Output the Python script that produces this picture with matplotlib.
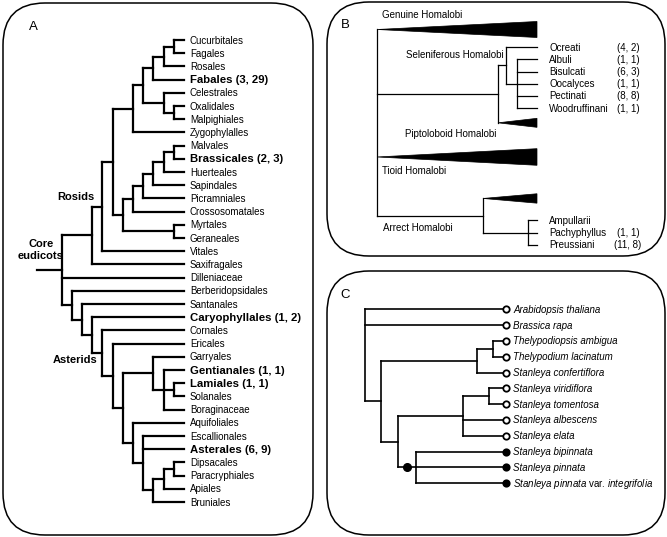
import re
import matplotlib
matplotlib.use("Agg")
import matplotlib.pyplot as plt
from matplotlib.patches import FancyBboxPatch, Polygon
from matplotlib.collections import LineCollection

plt.rcParams['font.family'] = 'Liberation Sans'
plt.rcParams['mathtext.fontset'] = 'custom'
plt.rcParams['mathtext.it'] = 'Liberation Sans:italic'
plt.rcParams['mathtext.rm'] = 'Liberation Sans'

# ---- panel A : orders of the core eudicots (cladogram, topology only)
fabids = ("(((((Cucurbitales,Fagales),Rosales),Fabales),(Celestrales,(Oxalidales,Malpighiales))),"
          "Zygophylalles)")
malvids = ("((((((Malvales,Brassicales),Huerteales),Sapindales),Picramniales),Crossosomatales),"
           "(Myrtales,Geraneales))")
rosids = "(((" + fabids + "," + malvids + "),Vitales),Saxifragales)"
garryids = "(Garryales,(Gentianales,(Lamiales,Solanales),Boraginaceae))"
campanulids = "(Aquifoliales,(Escallionales,Asterales,(((Dipsacales,Paracryphiales),Apiales),Bruniales)))"
asterid_grade = ("(Berberidopsidales,(Santanales,(Caryophyllales,(Cornales,(Ericales,("
                 + garryids + "," + campanulids + "))))))")
tree_a = "(" + rosids + ",Dilleniaceae," + asterid_grade + ")"
# (genera, species) of selenium hyperaccumulators per order
counts_a = {"Fabales": (3, 29), "Brassicales": (2, 3), "Caryophyllales": (1, 2),
            "Gentianales": (1, 1), "Lamiales": (1, 1), "Asterales": (6, 9)}

# ---- panel B : sections of Astragalus (branch lengths, * = collapsed clade)
tree_b = ("(*Genuine Homalobi:160,((Ocreati:31,(Albuli:20,Bisulcati:20,Oocalyces:20,Pectinati:20,"
          "Woodruffinani:20):11)Seleniferous Homalobi:8,*Piptoloboid Homalobi:39):121,"
          "*Tioid Homalobi:160,(*:54,(Ampullarii:9,Pachyphyllus:9,Preussiani:9):45)Arrect Homalobi:106)")
counts_b = {"Ocreati": (4, 2), "Albuli": (1, 1), "Bisulcati": (6, 3), "Oocalyces": (1, 1),
            "Pectinati": (8, 8), "Woodruffinani": (1, 1), "Pachyphyllus": (1, 1),
            "Preussiani": (11, 8)}
# collapsed clades: rows taken, half height of triangle mouth
collapsed_rows = {"Genuine Homalobi": 1.9, "Piptoloboid Homalobi": 1.4,
                  "Tioid Homalobi": 4.2, "": 2.6}
collapsed_half = {"Genuine Homalobi": 8, "Piptoloboid Homalobi": 4.5,
                  "Tioid Homalobi": 8.3, "": 4.7}

# ---- panel C : Stanleya and relatives
tree_c = ("(Arabidopsis thaliana:141,Brassica rapa:141,(((Thelypodiopsis ambigua:13,"
          "Thelypodium lacinatum:13):16,Stanleya confertiflora:29):96,(((Stanleya viridiflora:17,"
          "Stanleya tomentosa:17):26,Stanleya albescens:43,Stanleya elata:43):65,"
          "(Stanleya bipinnata:90,Stanleya pinnata:90,Stanleya pinnata var. integrifolia:90):18):17):16)")
hyperaccumulators = ["Stanleya bipinnata", "Stanleya pinnata", "Stanleya pinnata var. integrifolia"]


def parse(s):
    pos = 0

    def node():
        nonlocal pos
        kids = []
        if s[pos] == '(':
            pos += 1
            kids.append(node())
            while s[pos] == ',':
                pos += 1
                kids.append(node())
            pos += 1
        name = re.match(r"[^,():]*", s[pos:]).group(0)
        pos += len(name)
        length = 0.0
        if pos < len(s) and s[pos] == ':':
            m = re.match(r":([0-9.]+)", s[pos:])
            length = float(m.group(1))
            pos += len(m.group(0))
        coll = name.startswith('*')
        return {'name': name.lstrip('*'), 'kids': kids, 'len': length, 'coll': coll}
    return node()


def tips(n):
    if not n['kids']:
        return [n]
    return [t for k in n['kids'] for t in tips(k)]


def all_nodes(n):
    return [n] + [m for k in n['kids'] for m in all_nodes(k)]


def set_height(n):
    n['h'] = 0 if not n['kids'] else 1 + max(set_height(k) for k in n['kids'])
    return n['h']


def set_x_len(n, x):
    n['x'] = x + n['len']
    for k in n['kids']:
        set_x_len(k, n['x'])


def set_y(n):
    if n['kids']:
        for k in n['kids']:
            set_y(k)
        n['y'] = (n['kids'][0]['y'] + n['kids'][-1]['y']) / 2


def segments(root):
    segs = []
    for n in all_nodes(root):
        if not n['kids']:
            continue
        segs.append([(n['x'], n['kids'][0]['y']), (n['x'], n['kids'][-1]['y'])])
        for k in n['kids']:
            if not k['coll']:
                segs.append([(n['x'], k['y']), (k['x'], k['y'])])
    return segs


fig = plt.figure(figsize=(6.67, 5.37), dpi=100)
ax = fig.add_axes([0, 0, 1, 1])
ax.set_xlim(0, 667)
ax.set_ylim(537, 0)
ax.axis('off')

for (x0, y0, x1, y1) in [(3, 3, 313, 535), (327, 2, 665, 256), (327, 271, 665, 535)]:
    ax.add_patch(FancyBboxPatch((x0, y0), x1 - x0, y1 - y0, boxstyle="round,pad=0,rounding_size=42",
                                fc='none', ec='black', lw=1.1))

# ---------------- A
ta = parse(tree_a)
set_height(ta)
for n in all_nodes(ta):
    n['x'] = 184 - 10.2 * n['h']
for i, t in enumerate(tips(ta)):
    t['y'] = 40 + 13.2 * i
set_y(ta)
segs = segments(ta) + [[(37, ta['y']), (ta['x'], ta['y'])]]
ax.add_collection(LineCollection(segs, colors='black', linewidths=1.6, capstyle='projecting'))
for t in tips(ta):
    if t['name'] in counts_a:
        g, sp = counts_a[t['name']]
        ax.text(190, t['y'] + 0.5, f"{t['name']} ({g}, {sp})", fontsize=8.2, fontweight='bold',
                va='center', ha='left')
    else:
        ax.text(190, t['y'] + 0.5, t['name'], fontsize=7, va='center', ha='left')
rosid_node = ta['kids'][0]
ax.text(rosid_node['x'] + 2, rosid_node['y'] - 38, "Rosids", fontsize=8, fontweight='bold',
        ha='right', va='center')
ax.text(97, 360, "Asterids", fontsize=8, fontweight='bold', ha='right', va='center')
ax.text(41, 250, "Core\neudicots", fontsize=8, fontweight='bold', ha='center', va='center',
        linespacing=1.25)
ax.text(33, 27, "A", fontsize=9.5, ha='center', va='center')

# ---------------- B
tb = parse(tree_b)
set_x_len(tb, 377)
y = 17.9
for t in tips(tb):
    rows = collapsed_rows[t['name']] if t['coll'] else 1
    t['y'] = y + rows * 12.2 / 2
    y += rows * 12.2
set_y(tb)
ax.add_collection(LineCollection(segments(tb), colors='black', linewidths=0.9, capstyle='projecting'))
parent = {id(k): n for n in all_nodes(tb) for k in n['kids']}
for t in tips(tb):
    if t['coll']:
        px = parent[id(t)]['x']
        h = collapsed_half[t['name']]
        ax.add_patch(Polygon([(px, t['y']), (t['x'], t['y'] - h), (t['x'], t['y'] + h)],
                             closed=True, fc='black', ec='black', lw=0.5))
    else:
        ax.text(549, t['y'] + 0.5, t['name'], fontsize=7, va='center', ha='left')
        if t['name'] in counts_b:
            g, sp = counts_b[t['name']]
            ax.text(628, t['y'] + 0.5, f"({g}, {sp})", fontsize=7, va='center', ha='center')
named = {n['name']: n for n in all_nodes(tb)}
gen, tio, pip = named["Genuine Homalobi"], named["Tioid Homalobi"], named["Piptoloboid Homalobi"]
ax.text(tb['x'] + 5, gen['y'] - 14, "Genuine Homalobi", fontsize=7, va='center', ha='left')
ax.text(tb['x'] + 5, tio['y'] + 14, "Tioid Homalobi", fontsize=7, va='center', ha='left')
ax.text(parent[id(pip)]['x'] - 2, pip['y'] + 11.5, "Piptoloboid Homalobi", fontsize=7,
        va='center', ha='right')
sel = named["Seleniferous Homalobi"]
ax.text(sel['x'] - 2, sel['y'] - 10, "Seleniferous Homalobi", fontsize=7, va='center', ha='right')
arr = named["Arrect Homalobi"]
ax.text(tb['x'] + 6, arr['y'] + 12.5, "Arrect Homalobi", fontsize=7, va='center', ha='left')
ax.text(345, 25, "B", fontsize=9.5, ha='center', va='center')

# ---------------- C
tc = parse(tree_c)
set_x_len(tc, 365)
for i, t in enumerate(tips(tc)):
    t['y'] = 309.3 + 15.8 * i
set_y(tc)
ax.add_collection(LineCollection(segments(tc), colors='black', linewidths=1.2, capstyle='projecting'))
for t in tips(tc):
    filled = t['name'] in hyperaccumulators
    ax.plot(t['x'], t['y'], 'o', ms=4.6, mec='black', mew=1.3,
            mfc='black' if filled else 'white', zorder=3)
    if ' var. ' in t['name']:
        a, b = t['name'].split(' var. ')
        label = r"$\it{" + a.replace(' ', r'\ ') + r"}$ var. $\it{" + b + "}$"
        ax.text(t['x'] + 7, t['y'] + 0.5, label, fontsize=7, va='center', ha='left')
    else:
        ax.text(t['x'] + 7, t['y'] + 0.5, t['name'], fontsize=7, fontstyle='italic',
                va='center', ha='left')
# origin of hyperaccumulation: dot on the branch leading to the hyperaccumulator clade
pc = {id(k): n for n in all_nodes(tc) for k in n['kids']}
for n in all_nodes(tc):
    if n['kids'] and sorted(t['name'] for t in tips(n)) == sorted(hyperaccumulators):
        ax.plot((pc[id(n)]['x'] + n['x']) / 2, n['y'], 'o', ms=5.5, color='black', zorder=3)
ax.text(345, 295, "C", fontsize=9.5, ha='center', va='center')

fig.savefig("out.png", dpi=100)
